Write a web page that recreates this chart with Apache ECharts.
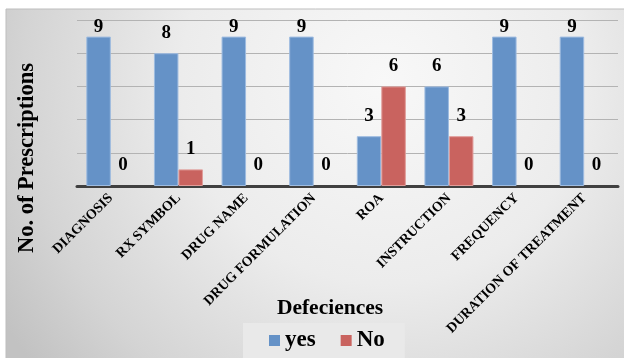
<!DOCTYPE html>
<html>
<head>
<meta charset="utf-8">
<script src="https://cdn.jsdelivr.net/npm/echarts@6/dist/echarts.min.js"></script>
<style>
  html, body { margin: 0; padding: 0; background: #ffffff; }
  #chart { width: 624px; height: 358px; }
</style>
</head>
<body>
<div id="chart"></div>
<script>
// Prescription deficiencies: count of prescriptions with / without each item
const categories = [
  'DIAGNOSIS', 'RX SYMBOL', 'DRUG NAME', 'DRUG FORMULATION',
  'ROA', 'INSTRUCTION', 'FREQUENCY', 'DURATION OF TREATMENT'
];
const yesValues = [9, 8, 9, 9, 3, 6, 9, 9];
const noValues  = [0, 1, 0, 0, 6, 3, 0, 0];
const seriesNames = ['yes', 'No'];
const yAxisTitle = 'No. of Prescriptions';
const xAxisTitle = 'Defeciences';

const yMax = 10;
const yStep = 2;

const SERIF = "'Liberation Serif', 'Times New Roman', serif";
const gridTop = 20, gridBottom = 172;
const unitPx = (358 - gridTop - gridBottom) / yMax;
const labelGap = 11, labelBox = 18;

// value labels sit above their bar, but are kept inside the plot area;
// empty bars get no outline so nothing is drawn for them
function withLabels(values) {
  return values.map(v => {
    const room = (yMax - v) * unitPx;
    const d = room < labelGap + labelBox ? 0 : labelGap;
    return { value: v, label: { distance: d }, itemStyle: { borderWidth: v > 0 ? 1 : 0 } };
  });
}

const chart = echarts.init(document.getElementById('chart'), null, { renderer: 'canvas' });

const valueLabel = {
  show: true,
  position: 'top',
  color: '#000',
  fontFamily: SERIF,
  fontWeight: 'bold',
  fontSize: 19
};

chart.setOption({
  animation: false,
  backgroundColor: '#ffffff',
  graphic: [
    {
      type: 'rect',
      z: -10,
      silent: true,
      shape: { x: 6, y: 9, width: 630, height: 360 },
      style: {
        fill: {
          type: 'radial', x: 0.6, y: 0.2, r: 1.25,
          colorStops: [
            { offset: 0, color: '#f8f8f8' },
            { offset: 0.45, color: '#ececec' },
            { offset: 0.8, color: '#d4d4d4' },
            { offset: 1, color: '#c2c2c2' }
          ]
        },
        stroke: '#bdbdbd',
        lineWidth: 1
      }
    },
    {
      type: 'text',
      silent: true,
      x: 27, y: 158,
      rotation: Math.PI / 2,
      style: {
        text: yAxisTitle,
        fontFamily: SERIF, fontWeight: 'bold', fontSize: 22.5,
        fill: '#000', align: 'center', verticalAlign: 'middle'
      }
    },
    {
      type: 'text',
      silent: true,
      x: 330, y: 308,
      style: {
        text: xAxisTitle,
        fontFamily: SERIF, fontWeight: 'bold', fontSize: 21.5,
        fill: '#000', align: 'center', verticalAlign: 'middle'
      }
    }
  ],
  legend: {
    data: seriesNames,
    left: 243,
    top: 323,
    padding: [6, 20, 10, 26],
    itemGap: 25,
    itemWidth: 11,
    itemHeight: 11,
    icon: 'rect',
    backgroundColor: '#e9e9e9',
    textStyle: { fontFamily: SERIF, fontWeight: 'bold', fontSize: 23, color: '#000' }
  },
  grid: { left: 77, right: 6, top: gridTop, bottom: gridBottom, containLabel: false },
  xAxis: {
    type: 'category',
    data: categories,
    axisLine: { show: true, lineStyle: { color: '#404040', width: 3 } },
    axisTick: { show: false },
    axisLabel: {
      interval: 0,
      rotate: 45,
      margin: 10,
      padding: [8, 0, 0, 0],
      color: '#000',
      fontFamily: SERIF,
      fontWeight: 'bold',
      fontSize: 14
    }
  },
  yAxis: {
    type: 'value',
    min: 0,
    max: yMax,
    interval: yStep,
    axisLine: { show: false },
    axisTick: { show: false },
    axisLabel: { show: false },
    splitLine: { show: true, lineStyle: { color: '#b3b3b3', width: 1 } }
  },
  series: [
    {
      name: seriesNames[0],
      type: 'bar',
      data: withLabels(yesValues),
      barWidth: 24.5,
      barGap: '0%',
      itemStyle: { color: '#6592c7', borderColor: '#9dbbe0' },
      label: valueLabel
    },
    {
      name: seriesNames[1],
      type: 'bar',
      data: withLabels(noValues),
      barWidth: 24.5,
      barGap: '0%',
      itemStyle: { color: '#c9635f', borderColor: '#e09c99' },
      label: valueLabel
    }
  ]
});
</script>
</body>
</html>
